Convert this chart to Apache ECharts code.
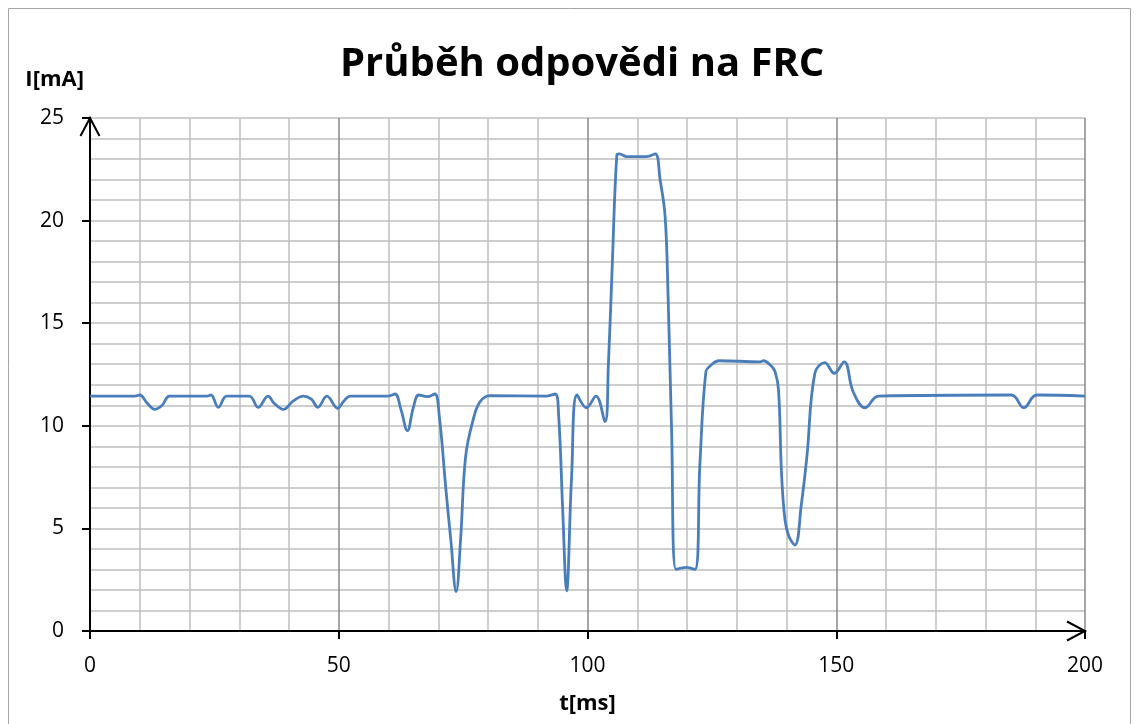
<!DOCTYPE html>
<html>
<head>
<meta charset="utf-8">
<script src="https://cdn.jsdelivr.net/npm/echarts@6/dist/echarts.min.js"></script>
<style>
	html, body { margin: 0; padding: 0; background: #fff; }
	#MyChart { width: 1139px; height: 724px; }
</style>
</head>
<body>
<div id="MyChart"></div>
<script>
// t [ms] a I [mA]
var times = [0, 9, 10, 11.5, 13, 14.5, 16, 23.5, 24.3, 25.8, 27.5, 32, 33.8, 35.8, 37, 38.9, 40.8, 42.9, 44.5, 45.8,
	47.6, 49.8, 51, 52.3, 60, 61.3, 62.5, 63.8, 65, 66.1, 67.8, 69.3, 70.2, 71.5, 72.5, 73.6, 74.5, 75.5, 77, 78.4,
	80.4, 91.8, 93.5, 94.2, 95, 95.8, 96.8, 97.9, 99.8, 101.7, 103.5, 104.2, 105, 105.9, 106.4, 107.9, 111.9, 113.6, 114.6, 115.6,
	116.2, 116.9, 117.8, 119.9, 121.6, 122.6, 123.8, 124.8, 126.4, 134.7, 135.4, 136.8, 137.7, 138.4, 139, 139.7, 140.5, 141.7, 143, 144.1,
	145.7, 147.7, 149.6, 151.6, 153.4, 155.8, 158.5, 185.2, 187.7, 190.3, 200];
var current = [11.45, 11.45, 11.5, 11.1, 10.8, 11.0, 11.45, 11.45, 11.5, 10.9, 11.45, 11.45, 10.9, 11.45, 11.1, 10.8, 11.2, 11.45, 11.3, 10.9,
	11.45, 10.85, 11.2, 11.45, 11.45, 11.55, 10.8, 9.76, 10.9, 11.5, 11.42, 11.55, 10.5, 7, 4.5, 1.92, 4.5, 8.5, 10.28, 11.17,
	11.47, 11.45, 11.55, 10.5, 6, 1.96, 7.5, 11.5, 10.88, 11.45, 10.2, 13, 18, 23.2, 23.25, 23.12, 23.12, 23.25, 21.98, 20.2,
	16.3, 9.8, 3.0, 3.1, 3.0, 8.17, 12.64, 12.95, 13.17, 13.12, 13.17, 12.95, 12.64, 11.74, 7.68, 5.41, 4.6, 4.19, 6.2, 8.5,
	12.56, 13.08, 12.56, 13.12, 11.66, 10.88, 11.45, 11.5, 10.88, 11.5, 11.45];

var pts = [];
for (var i = 0; i < times.length; i++) {
	pts.push([times[i], current[i]]);
}

var font = '"Open Sans", sans-serif';

var option = {
	animation: false,
	backgroundColor: '#fff',
	title: {
		text: 'Průběh odpovědi na FRC',
		left: 335,
		top: 40,
		textStyle: {
			fontFamily: font,
			fontWeight: 'bold',
			fontSize: 40,
			color: '#000'
		}
	},
	grid: {
		left: 90,
		top: 118,
		width: 995,
		height: 513
	},
	xAxis: {
		type: 'value',
		min: 0,
		max: 200,
		interval: 50,
		name: 't[ms]',
		nameLocation: 'middle',
		nameGap: 62,
		nameTextStyle: { fontFamily: font, fontWeight: 'bold', fontSize: 22, color: '#000' },
		axisLine: { onZero: false, lineStyle: { color: '#000', width: 2 } },
		axisTick: { show: true, length: 8, lineStyle: { color: '#000', width: 2 } },
		axisLabel: { fontFamily: font, fontSize: 21, color: '#000', margin: 25 },
		splitLine: { show: true, lineStyle: { color: '#878787', width: 1.5 } },
		minorTick: { show: false, splitNumber: 5 },
		minorSplitLine: { show: true, lineStyle: { color: '#bfbfbf', width: 1.5 } }
	},
	yAxis: {
		type: 'value',
		min: 0,
		max: 25,
		interval: 5,
		name: 'I[mA]',
		nameLocation: 'end',
		nameGap: 27,
		nameTextStyle: { fontFamily: font, fontWeight: 'bold', fontSize: 22, color: '#000', align: 'right', padding: [0, 6, 0, 0] },
		axisLine: { show: true, onZero: false, lineStyle: { color: '#000', width: 2 } },
		axisTick: { show: true, length: 8, lineStyle: { color: '#000', width: 2 } },
		axisLabel: { fontFamily: font, fontSize: 21, color: '#000', margin: 26 },
		splitLine: { show: true, lineStyle: { color: '#bfbfbf', width: 1.5 } },
		minorTick: { show: false, splitNumber: 5 },
		minorSplitLine: { show: true, lineStyle: { color: '#bfbfbf', width: 1.5 } }
	},
	series: [{
		name: 'I',
		type: 'line',
		data: pts,
		smooth: 0.4,
		showSymbol: false,
		lineStyle: { color: '#4a7ebb', width: 2.8 },
		z: 3
	}]
};

var myChart1 = echarts.init(document.getElementById('MyChart'));
myChart1.setOption(option);

// ramecek a sipky na koncich os
var yEnd = myChart1.convertToPixel({ gridIndex: 0 }, [0, 25]);
var xEnd = myChart1.convertToPixel({ gridIndex: 0 }, [200, 0]);
var arrowStyle = { fill: 'none', stroke: '#000', lineWidth: 2 };
myChart1.setOption({
	graphic: [{
		type: 'rect',
		shape: { x: 8.5, y: 8.5, width: 1122, height: 730 },
		style: { fill: 'none', stroke: '#a6a6a6', lineWidth: 1 },
		z: -1
	}, {
		type: 'polyline',
		shape: { points: [[yEnd[0] - 9.5, yEnd[1] + 18], yEnd, [yEnd[0] + 9.5, yEnd[1] + 18]] },
		style: arrowStyle,
		z: 10
	}, {
		type: 'polyline',
		shape: { points: [[xEnd[0] - 18, xEnd[1] - 9.5], xEnd, [xEnd[0] - 18, xEnd[1] + 9.5]] },
		style: arrowStyle,
		z: 10
	}]
});
</script>
</body>
</html>
